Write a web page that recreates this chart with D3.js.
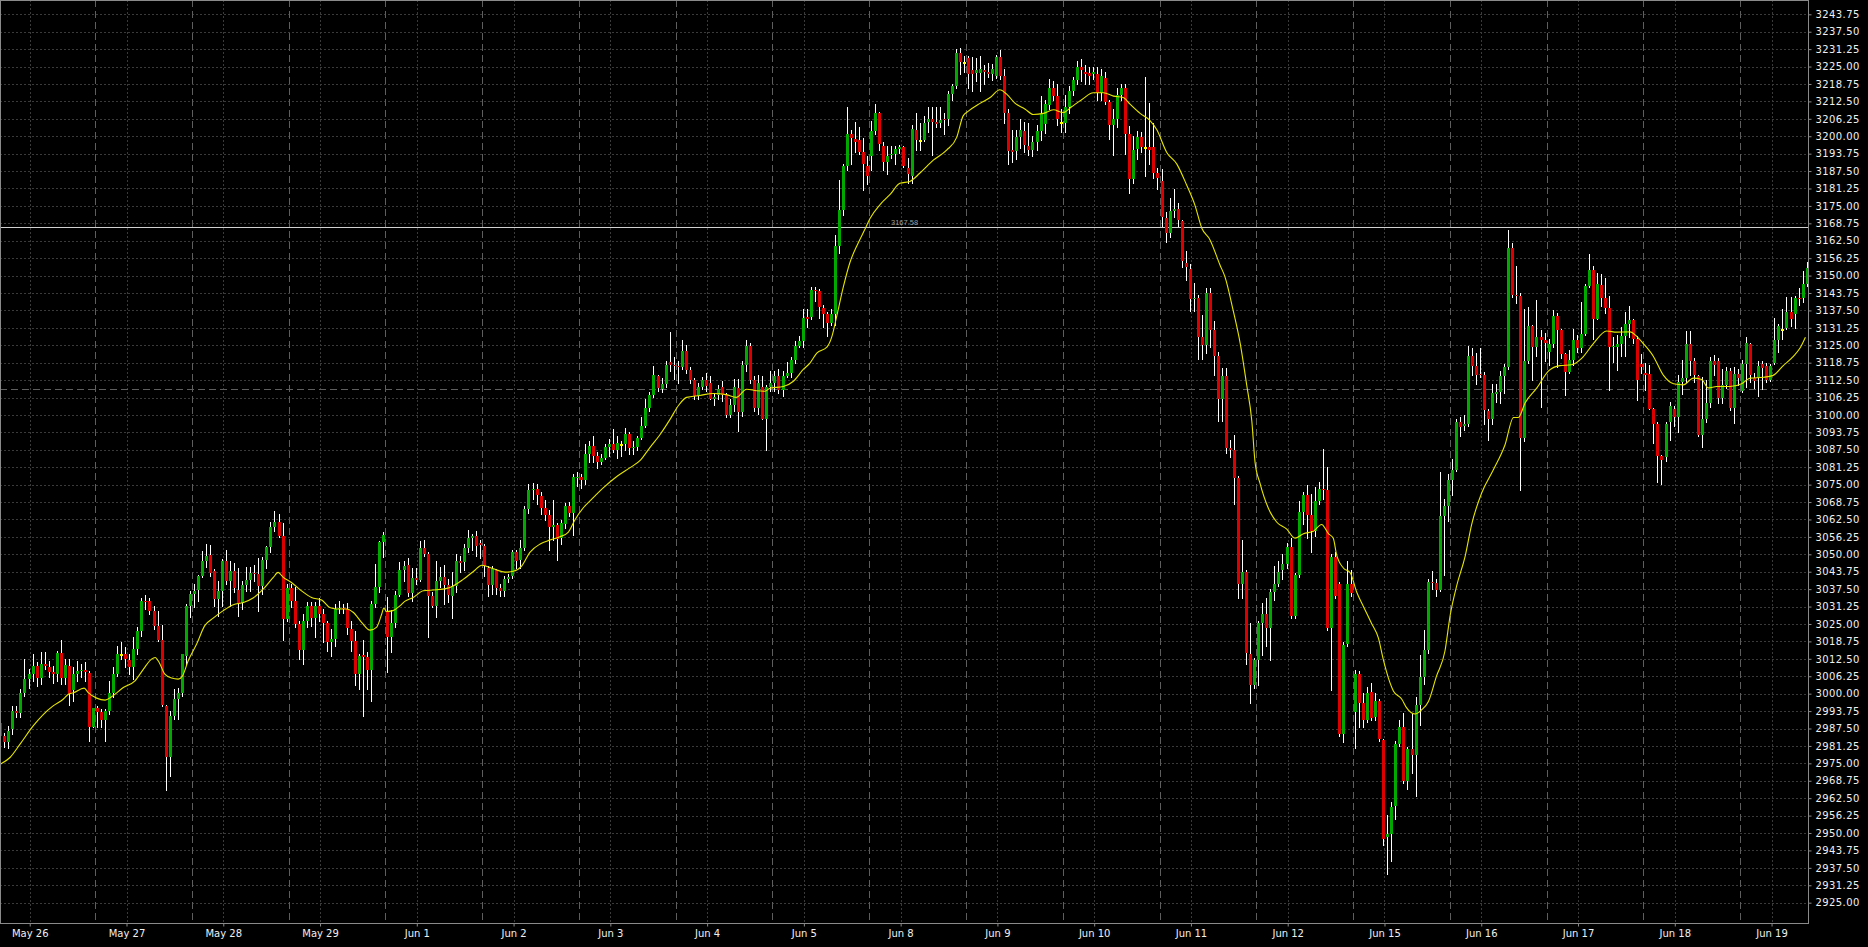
<!DOCTYPE html>
<html><head><meta charset="utf-8">
<script src="https://cdn.jsdelivr.net/npm/d3@7/dist/d3.min.js"></script>
<style>
html,body{margin:0;padding:0;background:#000;}
svg{display:block;}
</style></head><body>
<svg id="chart" width="1868" height="947"></svg>
<script>
// ---- categories (trading days, 24 hourly bars each) ----
const days = ["May 26","May 27","May 28","May 29","Jun 1","Jun 2","Jun 3","Jun 4","Jun 5","Jun 8","Jun 9","Jun 10","Jun 11","Jun 12","Jun 15","Jun 16","Jun 17","Jun 18","Jun 19"];

// ---- hourly candles [open, high, low, close] ----
const may26 = [[2989.6,2990.8,2981.5,2984.9],[2984.9,2986.0,2980.7,2982.5],[2982.5,2988.5,2980.4,2986.7],[2987.2,2995.6,2985.5,2993.8],[2993.8,2995.6,2991.5,2993.0],[2993.2,3001.6,2991.5,3000.4],[3000.4,3012.4,2999.2,3005.2],[3005.2,3008.8,3002.2,3007.0],[3007.0,3014.2,3004.6,3010.0],[3010.0,3011.2,3002.8,3005.6],[3005.6,3014.8,3003.4,3010.7],[3010.7,3014.8,3008.8,3009.9],[3009.6,3011.8,3005.8,3007.8],[3007.8,3010.0,3004.0,3006.9],[3007.1,3015.2,3004.6,3014.7],[3014.7,3019.2,3003.4,3005.6],[3005.6,3012.4,3003.4,3010.4],[3009.9,3012.4,2996.0,3000.0],[3001.3,3009.4,2997.2,3007.0],[3007.0,3011.8,3004.6,3008.2],[3008.2,3010.5,3006.0,3008.6],[3008.4,3011.2,3004.6,3007.6],[3007.5,3008.2,2983.0,2988.2],[2988.2,2995.0,2987.9,2994.7]];
const may27 = [[2994.7,2995.5,2987.9,2993.6],[2993.6,2994.4,2987.9,2990.6],[2990.6,2994.4,2983.0,2993.8],[2993.8,3004.6,2992.6,3000.3],[3000.3,3009.4,2998.8,3007.2],[3007.2,3017.2,3006.4,3014.2],[3014.1,3018.6,3012.4,3014.1],[3014.2,3016.6,3009.4,3012.4],[3012.2,3014.4,3007.0,3009.4],[3009.4,3020.2,3005.2,3016.0],[3016.0,3023.8,3014.2,3022.6],[3022.6,3034.5,3020.8,3033.3],[3033.3,3035.5,3030.5,3033.1],[3033.1,3034.5,3028.6,3029.5],[3029.5,3031.5,3023.2,3024.4],[3024.4,3029.8,3019.0,3019.2],[3019.2,3024.7,2995.6,2995.9],[2995.6,2995.9,2965.4,2977.1],[2977.1,2993.8,2970.5,2992.1],[2992.1,3001.6,2990.9,2998.1],[2998.1,3002.2,2990.9,3000.1],[3000.3,3014.2,2999.2,3014.1],[3013.6,3032.1,3010.6,3031.5],[3031.5,3036.9,3027.4,3035.7]];
const may28 = [[3035.7,3039.3,3031.0,3036.9],[3037.2,3042.7,3033.3,3042.3],[3042.3,3051.3,3041.7,3047.7],[3047.5,3053.7,3045.3,3049.4],[3049.9,3053.5,3042.3,3043.4],[3043.9,3044.7,3031.5,3033.9],[3033.9,3040.5,3028.0,3036.9],[3036.9,3048.3,3031.5,3047.5],[3047.7,3051.5,3039.3,3040.3],[3040.3,3047.7,3031.5,3044.1],[3044.1,3047.0,3036.3,3037.8],[3037.2,3045.1,3028.0,3032.1],[3032.7,3040.5,3030.4,3039.1],[3039.1,3045.6,3036.9,3040.8],[3040.8,3045.6,3036.9,3043.2],[3043.2,3046.0,3040.5,3042.8],[3042.8,3048.7,3029.8,3038.6],[3038.6,3049.1,3035.7,3048.0],[3048.0,3053.1,3045.0,3052.5],[3052.5,3061.5,3050.7,3059.7],[3059.7,3065.4,3058.5,3061.7],[3061.5,3064.5,3056.1,3056.7],[3056.7,3061.1,3019.2,3026.8],[3026.8,3039.3,3026.2,3037.9]];
const may29 = [[3037.9,3039.3,3031.0,3033.1],[3033.1,3038.1,3023.8,3025.0],[3025.0,3026.2,3012.4,3015.6],[3015.6,3028.6,3010.8,3026.2],[3026.2,3032.8,3024.0,3031.5],[3031.5,3032.8,3024.4,3027.0],[3027.0,3032.8,3020.2,3031.5],[3031.5,3034.5,3026.0,3028.5],[3028.5,3030.5,3018.4,3025.2],[3025.2,3026.2,3015.2,3018.7],[3018.7,3023.2,3013.6,3019.6],[3019.6,3032.1,3017.2,3030.4],[3030.4,3033.3,3028.8,3030.6],[3030.9,3032.1,3028.8,3030.4],[3030.4,3032.7,3021.4,3023.4],[3023.2,3026.2,3015.4,3019.0],[3019.0,3022.6,3003.2,3007.2],[3007.2,3014.2,3001.6,3013.6],[3013.7,3019.2,2992.0,3013.2],[3013.0,3014.8,3001.6,3008.4],[3008.4,3033.3,2997.4,3032.1],[3032.1,3046.5,3031.0,3038.4],[3038.4,3054.9,3036.3,3054.3],[3054.3,3057.9,3049.0,3057.0]];
const jun01 = [[3029.5,3034.8,3007.6,3020.5],[3020.5,3030.0,3014.8,3025.2],[3025.2,3037.0,3023.8,3035.5],[3035.5,3047.1,3035.1,3044.4],[3044.4,3047.7,3040.5,3045.8],[3046.3,3048.7,3035.1,3036.0],[3036.0,3045.1,3033.3,3041.5],[3041.5,3045.1,3039.3,3040.9],[3040.9,3054.9,3040.5,3052.3],[3052.3,3055.1,3049.5,3050.1],[3050.0,3050.7,3020.2,3035.1],[3035.1,3036.3,3031.2,3031.4],[3031.4,3047.7,3027.4,3040.5],[3040.5,3045.6,3038.1,3041.7],[3041.7,3046.0,3032.0,3039.0],[3039.0,3041.0,3033.0,3035.5],[3035.2,3043.6,3027.0,3038.6],[3038.6,3050.1,3036.4,3047.6],[3047.6,3049.4,3043.6,3046.8],[3047.2,3053.7,3044.3,3052.2],[3052.2,3058.7,3050.8,3055.8],[3055.8,3057.3,3051.5,3056.6],[3056.6,3058.3,3049.4,3053.0],[3054.0,3055.1,3048.7,3053.4]];
const jun02 = [[3053.0,3053.7,3042.2,3045.8],[3045.1,3045.8,3035.0,3039.0],[3039.0,3045.8,3035.7,3044.6],[3044.3,3044.9,3035.7,3037.8],[3037.8,3039.3,3035.0,3036.7],[3036.7,3042.2,3035.0,3041.0],[3041.0,3043.0,3040.0,3041.9],[3042.2,3051.5,3041.4,3050.8],[3050.8,3051.5,3045.1,3047.6],[3047.9,3055.1,3045.1,3052.2],[3052.2,3067.4,3051.5,3066.2],[3066.2,3075.3,3065.0,3073.2],[3073.2,3075.5,3070.0,3073.6],[3073.4,3075.3,3068.1,3071.3],[3071.0,3072.4,3064.5,3066.7],[3066.7,3069.5,3062.3,3064.2],[3064.2,3066.0,3051.5,3059.7],[3059.7,3069.5,3055.1,3060.5],[3060.6,3061.2,3047.9,3055.4],[3055.8,3062.3,3053.7,3061.2],[3060.9,3068.4,3059.5,3067.4],[3067.4,3068.9,3063.8,3064.9],[3064.9,3078.9,3056.9,3077.9],[3077.2,3079.6,3074.6,3077.9]];
const jun03 = [[3077.9,3078.9,3073.9,3076.5],[3076.5,3089.7,3075.3,3086.1],[3086.1,3090.5,3083.2,3089.0],[3089.0,3092.3,3083.2,3085.1],[3085.1,3086.8,3080.8,3083.2],[3083.2,3086.1,3082.5,3084.7],[3084.7,3089.7,3084.2,3088.6],[3088.6,3091.5,3085.1,3089.7],[3089.7,3094.8,3086.8,3087.6],[3087.4,3092.6,3084.7,3090.0],[3089.7,3090.5,3085.4,3089.7],[3089.4,3095.2,3087.6,3093.3],[3093.3,3094.0,3086.1,3088.3],[3088.3,3090.5,3086.0,3088.5],[3088.6,3092.6,3087.6,3091.9],[3091.9,3099.1,3091.2,3096.2],[3096.2,3105.9,3095.5,3102.4],[3102.4,3108.2,3101.3,3107.0],[3107.0,3117.4,3106.3,3114.2],[3114.0,3114.5,3108.5,3109.6],[3109.2,3113.1,3108.2,3111.1],[3111.1,3119.3,3109.9,3118.1],[3119.1,3129.7,3115.7,3118.0],[3118.1,3120.7,3112.8,3117.4]];
const jun04 = [[3117.7,3119.3,3111.4,3117.1],[3117.1,3126.9,3116.4,3122.9],[3122.9,3125.1,3115.0,3116.0],[3116.0,3117.1,3111.4,3112.5],[3112.5,3113.4,3105.6,3106.7],[3106.7,3111.4,3105.6,3110.2],[3110.2,3113.5,3109.2,3112.5],[3112.5,3115.0,3108.5,3110.4],[3111.4,3114.0,3105.6,3105.9],[3105.9,3108.0,3103.5,3106.5],[3107.3,3110.6,3105.6,3109.2],[3109.9,3112.1,3104.9,3107.0],[3107.0,3107.7,3099.1,3100.1],[3100.1,3105.6,3099.1,3103.4],[3103.4,3112.8,3101.3,3109.9],[3109.6,3112.8,3094.1,3101.0],[3101.0,3119.3,3099.8,3117.8],[3117.8,3126.9,3115.7,3124.6],[3124.6,3125.8,3111.4,3112.5],[3112.5,3114.0,3101.3,3102.4],[3102.4,3114.2,3100.5,3111.4],[3109.9,3114.0,3098.4,3098.7],[3098.7,3110.6,3087.6,3109.9],[3109.9,3115.7,3108.5,3111.4]];
const jun05 = [[3111.4,3115.7,3108.5,3114.0],[3114.0,3116.4,3107.7,3109.0],[3109.0,3115.7,3106.7,3113.8],[3114.0,3118.9,3113.5,3115.0],[3115.0,3120.7,3113.5,3119.7],[3119.7,3126.5,3118.6,3124.8],[3124.8,3128.4,3124.3,3126.5],[3126.5,3138.0,3124.3,3134.7],[3135.0,3138.0,3131.5,3134.4],[3135.0,3146.0,3134.4,3144.8],[3144.8,3146.0,3141.0,3144.5],[3144.5,3145.2,3134.7,3138.7],[3138.3,3139.5,3131.5,3136.2],[3136.2,3137.0,3128.4,3133.0],[3133.0,3138.0,3132.3,3136.2],[3136.2,3164.7,3132.3,3160.7],[3160.7,3184.2,3158.2,3173.6],[3173.6,3189.9,3171.9,3189.2],[3189.2,3210.5,3187.8,3200.7],[3200.7,3202.2,3189.9,3199.3],[3199.0,3205.1,3194.2,3198.1],[3198.6,3203.3,3193.5,3194.2],[3194.2,3199.3,3180.8,3189.9],[3189.5,3192.8,3182.7,3185.6]];
const jun08 = [[3192.8,3205.3,3187.8,3201.9],[3201.9,3211.5,3200.7,3208.2],[3208.2,3208.7,3195.0,3197.1],[3196.4,3197.9,3187.8,3190.7],[3190.7,3196.4,3186.3,3192.8],[3193.2,3196.4,3192.1,3193.8],[3193.8,3196.4,3189.9,3195.4],[3195.4,3197.0,3194.0,3196.0],[3196.0,3196.4,3188.9,3189.5],[3188.5,3192.1,3183.4,3186.3],[3185.9,3204.0,3183.1,3202.7],[3202.4,3208.2,3195.0,3198.6],[3198.6,3204.9,3195.0,3198.6],[3198.6,3207.3,3198.3,3204.9],[3205.2,3210.6,3201.6,3206.2],[3206.2,3210.6,3193.3,3205.2],[3205.2,3210.6,3203.2,3204.5],[3204.9,3210.6,3203.2,3205.7],[3206.2,3208.2,3200.7,3205.7],[3206.2,3216.4,3204.0,3215.1],[3215.1,3218.9,3213.1,3218.1],[3218.1,3231.2,3217.2,3229.9],[3229.9,3231.6,3222.2,3226.6],[3226.6,3228.8,3223.0,3226.6]];
const jun09 = [[3227.9,3228.8,3217.2,3222.2],[3223.8,3228.3,3216.4,3222.2],[3222.7,3227.9,3219.7,3223.8],[3222.7,3228.8,3216.4,3224.1],[3223.8,3225.5,3218.9,3223.0],[3223.0,3226.3,3221.3,3222.2],[3222.2,3226.0,3220.0,3224.0],[3221.7,3229.3,3221.0,3228.3],[3228.3,3230.9,3220.5,3221.7],[3221.7,3224.3,3204.9,3208.2],[3208.2,3209.8,3190.0,3194.7],[3195.0,3202.4,3190.9,3194.3],[3194.7,3202.4,3191.7,3199.6],[3199.6,3206.2,3195.8,3202.4],[3201.9,3205.2,3194.2,3197.0],[3196.6,3204.9,3193.3,3195.0],[3195.0,3200.0,3193.0,3198.0],[3198.0,3204.0,3195.0,3202.0],[3202.0,3214.4,3198.6,3208.0],[3204.5,3213.0,3201.0,3211.5],[3211.1,3220.5,3209.8,3217.2],[3217.2,3219.7,3213.1,3214.4],[3214.4,3218.9,3204.0,3206.2],[3205.2,3209.8,3201.6,3205.2]];
const jun10 = [[3204.9,3214.8,3201.6,3210.6],[3210.6,3218.1,3208.2,3216.1],[3216.1,3221.4,3214.8,3220.0],[3220.0,3227.1,3218.9,3225.0],[3225.0,3227.6,3219.7,3223.8],[3223.0,3225.5,3218.9,3222.2],[3222.7,3225.0,3218.9,3221.7],[3222.2,3225.0,3220.5,3223.0],[3222.2,3225.0,3213.1,3215.6],[3215.6,3224.3,3213.1,3221.7],[3221.0,3223.0,3211.5,3212.3],[3212.3,3213.1,3199.1,3204.0],[3204.0,3209.8,3193.3,3206.2],[3206.2,3217.2,3203.2,3214.8],[3214.8,3218.9,3213.1,3217.2],[3217.2,3218.9,3193.7,3200.8],[3200.8,3203.5,3179.8,3184.8],[3184.8,3200.0,3183.1,3195.0],[3195.3,3201.9,3191.7,3199.6],[3199.6,3201.6,3194.2,3196.3],[3196.3,3221.4,3185.9,3196.3],[3196.3,3211.8,3190.0,3195.0],[3196.3,3204.9,3185.1,3186.8],[3186.8,3188.7,3181.0,3185.1]];
const jun11 = [[3183.8,3188.4,3167.8,3171.1],[3170.6,3172.7,3162.0,3165.3],[3165.3,3177.7,3163.7,3173.2],[3173.2,3181.0,3171.1,3173.9],[3173.9,3176.0,3167.8,3170.0],[3169.5,3170.0,3153.0,3155.1],[3154.6,3158.7,3148.5,3153.0],[3152.5,3154.1,3137.3,3141.5],[3141.5,3147.2,3137.3,3142.0],[3142.0,3143.1,3120.0,3127.8],[3127.8,3135.7,3120.0,3125.0],[3125.0,3145.6,3122.2,3143.6],[3143.6,3145.6,3124.5,3130.4],[3130.4,3133.7,3114.3,3121.2],[3121.2,3122.5,3097.8,3105.7],[3105.7,3116.7,3097.8,3114.0],[3114.0,3116.7,3086.3,3088.2],[3088.2,3091.0,3085.0,3087.6],[3087.6,3092.9,3068.1,3077.2],[3077.2,3078.0,3034.4,3039.3],[3039.3,3055.0,3034.4,3043.8],[3043.8,3044.3,3010.5,3014.6],[3014.1,3025.3,2996.5,3003.1],[3003.1,3012.9,3002.2,3012.1]];
const jun12 = [[3012.1,3026.1,3003.1,3025.3],[3025.3,3032.7,3013.8,3028.6],[3028.6,3034.4,3017.1,3023.7],[3023.4,3037.7,3012.1,3036.5],[3036.5,3045.9,3033.5,3039.3],[3039.3,3047.5,3038.5,3043.8],[3044.3,3050.0,3041.0,3046.7],[3046.7,3054.1,3045.1,3052.5],[3052.5,3055.8,3027.3,3027.8],[3027.8,3043.4,3027.3,3042.6],[3042.6,3069.0,3041.8,3065.2],[3065.2,3072.3,3060.7,3071.4],[3071.4,3074.7,3055.8,3064.0],[3064.0,3071.8,3050.8,3058.3],[3058.3,3074.0,3056.6,3069.0],[3069.0,3076.0,3068.1,3073.4],[3073.4,3087.9,3070.0,3073.0],[3073.0,3081.3,3023.0,3023.7],[3023.7,3050.0,3001.4,3049.2],[3049.2,3050.8,3034.4,3035.2],[3039.3,3040.1,2984.9,2985.4],[2985.4,3018.4,2982.5,3017.4],[3017.9,3047.5,3017.1,3039.3],[3039.3,3044.3,3035.2,3036.0]];
const jun15 = [[2993.5,3008.5,2980.6,3007.0],[3007.0,3008.1,2988.1,2996.5],[2996.5,3000.2,2988.1,2990.4],[2990.4,3002.5,2989.7,3000.2],[3000.5,3004.0,2990.4,2991.2],[2991.5,3000.2,2990.4,2997.2],[2997.2,2998.0,2982.9,2983.6],[2983.3,2983.6,2945.6,2947.7],[2948.6,2956.4,2935.3,2949.6],[2949.6,2961.3,2939.8,2959.2],[2959.8,2982.9,2955.2,2982.1],[2981.8,2990.4,2981.4,2987.9],[2987.9,2993.0,2967.8,2968.5],[2968.5,2980.9,2965.8,2980.3],[2980.3,2992.7,2971.5,2977.9],[2977.9,2998.7,2963.2,2996.0],[2996.0,3013.8,2988.9,3005.8],[3005.8,3022.9,3003.6,3015.6],[3015.6,3041.3,3014.6,3040.2],[3040.2,3044.0,3037.5,3040.0],[3039.8,3041.0,3035.0,3037.2],[3037.2,3079.5,3036.8,3063.9],[3063.9,3069.7,3042.5,3067.4],[3067.4,3078.8,3062.1,3076.5]];
const jun16 = [[3076.5,3084.1,3071.2,3080.3],[3080.3,3098.7,3080.0,3097.6],[3097.6,3099.1,3092.6,3095.8],[3096.1,3099.9,3094.6,3096.6],[3096.6,3124.8,3096.1,3121.3],[3121.3,3124.1,3114.2,3117.7],[3117.7,3122.2,3111.2,3114.2],[3114.7,3124.1,3113.5,3114.2],[3114.2,3115.3,3096.6,3101.7],[3101.4,3102.2,3091.1,3098.7],[3098.7,3111.2,3096.6,3107.8],[3107.5,3111.2,3104.7,3108.2],[3108.2,3115.8,3104.4,3113.8],[3113.8,3118.3,3107.8,3117.2],[3117.2,3166.4,3116.5,3160.0],[3160.0,3161.8,3142.2,3143.0],[3143.0,3153.5,3140.0,3142.5],[3142.5,3143.7,3073.0,3091.6],[3091.6,3138.0,3090.8,3119.5],[3119.5,3138.9,3118.8,3131.9],[3131.9,3132.4,3112.7,3124.4],[3124.4,3141.4,3121.0,3127.8],[3127.8,3130.4,3102.9,3126.8],[3126.8,3129.4,3119.5,3125.9]];
const jun17 = [[3122.6,3127.4,3118.0,3125.3],[3125.3,3137.7,3124.4,3135.4],[3135.4,3136.4,3117.2,3130.4],[3130.4,3130.9,3120.3,3121.8],[3121.8,3122.2,3107.1,3115.3],[3115.3,3123.3,3115.0,3119.8],[3119.8,3130.9,3118.0,3126.8],[3126.8,3128.6,3122.6,3124.1],[3124.1,3140.4,3122.6,3128.9],[3128.9,3147.0,3128.6,3146.4],[3146.4,3157.6,3146.0,3152.0],[3152.0,3153.5,3127.4,3134.3],[3134.3,3150.9,3134.3,3147.0],[3146.7,3150.5,3139.2,3141.9],[3141.9,3149.0,3136.4,3138.4],[3138.4,3142.5,3109.0,3124.4],[3124.4,3128.0,3119.0,3124.6],[3124.4,3128.6,3116.2,3125.6],[3125.6,3131.6,3121.0,3128.3],[3128.3,3136.9,3121.0,3132.8],[3132.8,3139.2,3127.8,3133.9],[3133.9,3134.3,3125.9,3127.4],[3127.4,3128.3,3105.2,3112.7],[3118.3,3121.8,3115.0,3117.3]];
const jun18 = [[3115.0,3118.8,3109.0,3114.3],[3114.7,3118.0,3102.2,3102.2],[3102.2,3102.6,3090.1,3096.9],[3096.9,3097.6,3076.0,3085.1],[3085.1,3085.6,3075.4,3084.0],[3084.8,3097.6,3083.3,3096.9],[3097.6,3104.7,3091.1,3103.2],[3102.2,3103.2,3096.1,3099.1],[3099.1,3114.2,3093.8,3111.7],[3111.7,3119.8,3107.5,3113.2],[3113.2,3130.1,3112.0,3125.6],[3125.6,3130.1,3114.2,3119.5],[3119.5,3120.3,3112.0,3114.2],[3113.8,3114.2,3092.4,3092.7],[3092.7,3113.5,3088.6,3098.7],[3098.7,3112.7,3097.6,3104.4],[3104.4,3120.7,3102.9,3119.2],[3119.2,3121.5,3114.5,3118.0],[3119.2,3120.3,3104.4,3106.2],[3106.2,3116.5,3104.4,3110.8],[3110.8,3117.3,3109.7,3115.8],[3115.8,3116.8,3101.7,3102.6],[3102.6,3117.3,3097.2,3114.7],[3114.7,3116.5,3110.8,3113.2]];
const jun19 = [[3108.7,3119.8,3108.2,3118.3],[3118.3,3127.8,3110.2,3125.9],[3125.3,3125.9,3111.7,3114.2],[3113.2,3115.0,3109.7,3112.3],[3113.2,3119.2,3106.7,3117.7],[3118.3,3119.2,3109.3,3116.8],[3117.7,3118.8,3111.7,3112.7],[3112.7,3118.3,3112.3,3117.7],[3118.8,3134.9,3118.3,3126.8],[3126.8,3132.8,3122.6,3131.9],[3130.9,3138.0,3127.1,3130.9],[3131.3,3142.2,3130.9,3136.9],[3136.9,3142.2,3131.9,3134.6],[3136.2,3142.5,3131.3,3141.9],[3141.9,3145.5,3139.5,3141.6],[3141.9,3151.5,3140.4,3147.0],[3147.0,3155.0,3146.4,3152.8]];

// ---- moving average (yellow): bar position / value ----
const maIdx = [0,2.4,4.9,8.2,10.7,13.1,15.6,16.9,18.1,20.8,21.8,23.9,26,27.6,30.5,33.4,35.5,37.5,38.4,39.4,40.8,42.5,44.1,45.2,46.6,48.7,50.7,52.8,55.3,57.8,60.3,62.7,65.2,67.7,68.9,70.2,72.2,74.7,77.2,79.7,81.7,83.4,85.9,87.5,89.6,91.7,93.3,94.6,95.1,95.8,97.4,99.1,100.3,102.4,104.9,107.4,109.8,111.5,114.8,117.7,119.4,122.3,125.2,127.2,129.3,131.4,133.9,136.3,138.8,140.9,142.5,144.6,146.7,149.6,152.9,156.2,158.7,161.1,163.6,166.1,168.2,170.2,173.5,176.8,180.1,182.5,185.1,187.6,189.7,190.9,194.2,196.7,199.2,200.8,202.5,205,206.2,207.4,209.1,210.7,212.8,214.5,215.7,218.2,220.7,223.1,225.6,228.1,231.4,234.7,237.2,238.8,240.1,243,245.5,247.9,249.6,251.7,254.1,256.2,258.7,261.2,263.6,265.7,268.2,271.1,273.6,276.1,278.5,280.2,282.7,285.1,286.8,289.3,291.8,294.2,296.3,298,300,302.5,303.7,305.8,307.5,309.1,310.4,311.2,312.4,314.5,316.6,319,321.1,323.2,325.7,327.7,329.4,330.6,331.4,333.1,334.8,336.4,338.1,340.1,341.8,343,344.3,345.5,347.6,348.8,350.9,352.5,354.2,356.2,358.3,359.6,361.2,363.3,364.9,367.4,370.3,373.2,375.3,376.5,378.2,381.1,384,386.8,389.7,392.2,395.1,398.4,400.9,404.2,405.8,407.5,410,412.5,415,417.4,419.9,422,423.6,425.7,429,431.9,434,437.3,439.7,442.2,444.7,446.4,447.7];
const maVal = [2974.7,2977.1,2981.9,2988.5,2992.6,2995.6,2998.0,2999.8,3000.3,3002.0,3000.4,2998.4,2997.7,2998.9,3002.2,3004.6,3008.8,3012.4,3013.0,3011.2,3007.0,3005.6,3005.2,3006.4,3011.8,3017.8,3024.4,3027.1,3029.8,3031.9,3032.7,3034.3,3037.5,3041.7,3043.5,3041.7,3039.9,3036.9,3034.5,3033.6,3030.9,3030.4,3030.4,3029.2,3025.6,3022.8,3023.8,3028.6,3030.7,3029.5,3029.8,3031.5,3033.1,3034.5,3036.9,3037.2,3037.5,3038.1,3041.0,3044.3,3046.1,3044.8,3043.6,3043.9,3045.8,3050.8,3053.7,3055.1,3056.3,3058.0,3062.3,3066.7,3069.8,3073.9,3077.9,3081.1,3083.7,3088.3,3092.9,3098.4,3103.4,3106.3,3107.0,3107.7,3107.3,3106.3,3109.2,3108.7,3108.5,3109.6,3110.2,3112.1,3116.4,3118.6,3122.2,3124.3,3127.9,3135.1,3146.0,3154.6,3161.8,3166.8,3170.5,3175.5,3179.1,3183.1,3183.8,3186.8,3191.4,3195.0,3199.6,3207.3,3209.0,3211.8,3213.9,3216.7,3215.1,3211.8,3209.8,3207.8,3208.2,3209.5,3208.5,3210.6,3213.1,3215.6,3215.6,3214.4,3213.9,3211.5,3208.2,3205.7,3202.4,3194.2,3190.0,3182.6,3175.2,3167.0,3162.9,3153.8,3149.7,3137.3,3125.8,3111.0,3097.8,3083.0,3075.6,3066.5,3061.5,3059.1,3055.8,3057.4,3058.3,3060.7,3057.4,3055.8,3050.0,3045.1,3043.4,3036.5,3031.2,3025.2,3019.9,3012.3,3005.5,3001.0,2998.0,2994.9,2992.7,2994.2,2997.2,3006.3,3015.3,3028.2,3038.7,3049.3,3060.6,3072.0,3080.3,3089.3,3099.1,3099.1,3104.4,3109.7,3115.8,3117.7,3118.0,3120.3,3125.6,3130.1,3129.7,3129.8,3128.3,3125.6,3121.0,3114.2,3111.2,3110.8,3113.2,3112.7,3109.7,3110.2,3110.2,3111.2,3113.2,3113.5,3114.2,3117.7,3121.0,3124.1,3127.9];

// ---- price levels / reference lines ----
const priceTicks = d3.range(2925, 3243.76, 6.25);
const markedLevel = 3167.58;   // solid horizontal line with its label
const dashedLevel = 3109.3;    // long-dashed horizontal line

// ---- build ----
const dayBars = [may26,may27,may28,may29,jun01,jun02,jun03,jun04,jun05,jun08,jun09,jun10,jun11,jun12,jun15,jun16,jun17,jun18,jun19];
const bars = dayBars.flat().map((b, i) => ({i, o:b[0], h:b[1], l:b[2], c:b[3]}));
const barsPerDay = 24;

const W = 1868, H = 947, plotR = 1808, plotB = 923;
const svg = d3.select("#chart");
svg.append("rect").attr("width", W).attr("height", H).attr("fill", "#000");

const x = d3.scaleLinear().domain([0, bars.length - 1]).range([0.3, 0.3 + 4.032 * (bars.length - 1)]);
const y = d3.scaleLinear().domain([2925, 3243.75]).range([902.7, 14.3]);

const plot = svg.append("g");
svg.append("clipPath").attr("id", "clip").append("rect").attr("x", 0).attr("y", 0).attr("width", plotR).attr("height", plotB);
plot.attr("clip-path", "url(#clip)");

const snap = v => Math.round(v) + 0.5;

// horizontal dotted grid
plot.append("g").selectAll("line").data(priceTicks).join("line")
  .attr("x1", 0).attr("x2", plotR)
  .attr("y1", d => snap(y(d))).attr("y2", d => snap(y(d)))
  .attr("stroke", "#3a3a3a").attr("stroke-dasharray", "2,2");

// vertical dotted grid at the time labels
const labelIdx = days.map((d, k) => k * barsPerDay + 7.3);
plot.append("g").selectAll("line").data(labelIdx).join("line")
  .attr("x1", d => snap(x(d))).attr("x2", d => snap(x(d)))
  .attr("y1", 0).attr("y2", plotB)
  .attr("stroke", "#3a3a3a").attr("stroke-dasharray", "2,2");

// day separators (long dashes)
const sepIdx = days.slice(1).map((d, k) => (k + 1) * barsPerDay - 0.5);
plot.append("g").selectAll("line").data(sepIdx).join("line")
  .attr("x1", d => snap(x(d))).attr("x2", d => snap(x(d)))
  .attr("y1", 0).attr("y2", plotB)
  .attr("stroke", "#5e5e5e").attr("stroke-dasharray", "7,4");

// dashed horizontal level
plot.append("line").attr("x1", 0).attr("x2", plotR)
  .attr("y1", snap(y(dashedLevel))).attr("y2", snap(y(dashedLevel)))
  .attr("stroke", "#5e5e5e").attr("stroke-dasharray", "7,4");

// solid horizontal level with label
plot.append("line").attr("x1", 0).attr("x2", plotR)
  .attr("y1", snap(y(markedLevel))).attr("y2", snap(y(markedLevel)))
  .attr("stroke", "#d0d0d0").attr("stroke-width", 1);
plot.append("text").attr("x", 891).attr("y", Math.round(y(markedLevel)) - 2)
  .attr("fill", "#9a9a9a").attr("font-family", "Liberation Sans, Arial, sans-serif").attr("font-size", 7.5)
  .text(markedLevel.toFixed(2));

// wicks
plot.append("g").selectAll("line").data(bars).join("line")
  .attr("x1", d => snap(x(d.i))).attr("x2", d => snap(x(d.i)))
  .attr("y1", d => Math.round(y(Math.max(d.h, d.o, d.c))))
  .attr("y2", d => Math.round(y(Math.min(d.l, d.o, d.c))) + 1)
  .attr("stroke", "#ffffff").attr("stroke-width", 1).attr("shape-rendering", "crispEdges");

// bodies
plot.append("g").selectAll("rect").data(bars).join("rect")
  .attr("x", d => Math.round(x(d.i)) - 1)
  .attr("width", 3)
  .attr("y", d => Math.round(y(Math.max(d.o, d.c))))
  .attr("height", d => d.o === d.c ? 2 : Math.max(1, Math.round(y(Math.min(d.o, d.c))) - Math.round(y(Math.max(d.o, d.c)))))
  .attr("fill", d => d.c > d.o ? "#00a800" : (d.c < d.o ? "#dc0000" : "#ffff00"))
  .attr("shape-rendering", "crispEdges");

// moving average
const maPts = maIdx.map((v, k) => [v, maVal[k]]);
plot.append("path").datum(maPts)
  .attr("d", d3.line().x(d => x(d[0])).y(d => y(d[1])).curve(d3.curveMonotoneX))
  .attr("fill", "none").attr("stroke", "#e6e600").attr("stroke-width", 1.1);

// frame
svg.append("line").attr("x1", 0.5).attr("x2", 0.5).attr("y1", 0).attr("y2", plotB).attr("stroke", "#8a8a8a");
svg.append("line").attr("x1", 0).attr("x2", plotR).attr("y1", 0.5).attr("y2", 0.5).attr("stroke", "#8a8a8a");

// right price axis
const yAxis = d3.axisRight(y).tickValues(priceTicks).tickFormat(d => d.toFixed(2)).tickSize(3).tickSizeOuter(0).tickPadding(4);
const gy = svg.append("g").attr("transform", `translate(${plotR + 0.5},0)`).call(yAxis);
gy.select(".domain").attr("stroke", "#8a8a8a").attr("d", `M0,0V${plotB}`);
gy.selectAll(".tick line").attr("stroke", "#8a8a8a");
gy.selectAll(".tick text").attr("fill", "#f0f0f0").attr("font-family", "DejaVu Sans, sans-serif").attr("font-size", 10).attr("letter-spacing", 0.4);

// bottom time axis
const xAxis = d3.axisBottom(x).tickValues(labelIdx).tickFormat((d, k) => days[k]).tickSize(3).tickSizeOuter(0).tickPadding(3);
const gx = svg.append("g").attr("transform", `translate(0,${plotB + 0.5})`).call(xAxis);
gx.select(".domain").attr("stroke", "#8a8a8a").attr("d", `M0,0H${plotR + 1}`);
gx.selectAll(".tick line").attr("stroke", "#8a8a8a");
gx.selectAll(".tick text").attr("fill", "#f0f0f0").attr("font-family", "DejaVu Sans, sans-serif").attr("font-size", 10);
</script>
</body></html>
